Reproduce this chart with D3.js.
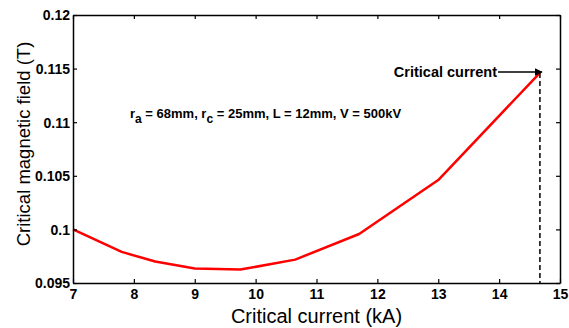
<!DOCTYPE html>
<html><head><meta charset="utf-8">
<script src="https://cdn.jsdelivr.net/npm/d3@7"></script>
<style>body{margin:0;background:#fff}svg{display:block}</style>
</head><body>
<svg id="c" width="569" height="328"></svg>
<script>
const currentKA = [7.0, 7.8, 8.35, 9.0, 9.75, 10.65, 11.7, 13.0, 14.67];
const fieldT    = [0.1, 0.0979, 0.0970, 0.09635, 0.09625, 0.09718, 0.09957, 0.1046, 0.1146];
const xTicks = [7, 8, 9, 10, 11, 12, 13, 14, 15];
const yTicks = [0.095, 0.1, 0.105, 0.11, 0.115, 0.12];
const yTickLabels = ["0.095", "0.1", "0.105", "0.11", "0.115", "0.12"];
const annotX = 14.67, annotY = 0.1146;

const svg = d3.select("#c");
const L = 73, R = 560, T = 15, B = 283;
const x = d3.scaleLinear().domain([7, 15]).range([L, R]);
const y = d3.scaleLinear().domain([0.095, 0.12]).range([B, T]);
const font = "'Liberation Sans', Arial, sans-serif";

// line
const line = d3.line().x((d,i)=>x(currentKA[i])).y((d,i)=>y(fieldT[i]));
svg.append("path").datum(fieldT).attr("d", line)
  .attr("fill","none").attr("stroke","#ff0000").attr("stroke-width",2.5).attr("stroke-linejoin","round");

// dashed vertical
svg.append("line").attr("x1",x(annotX)).attr("x2",x(annotX)).attr("y1",y(annotY)).attr("y2",B)
  .attr("stroke","#000").attr("stroke-width",1.5).attr("stroke-dasharray","5,3");

// axes
const axB = svg.append("g").attr("transform",`translate(0,${B})`)
  .call(d3.axisBottom(x).tickValues(xTicks).tickSizeInner(-4).tickSizeOuter(0).tickPadding(6).tickFormat(d3.format("d")));
const axT = svg.append("g").attr("transform",`translate(0,${T})`)
  .call(d3.axisTop(x).tickValues(xTicks).tickSizeInner(-4).tickSizeOuter(0).tickFormat(""));
const axL = svg.append("g").attr("transform",`translate(${L},0)`)
  .call(d3.axisLeft(y).tickValues(yTicks).tickSizeInner(-4).tickSizeOuter(0).tickPadding(3).tickFormat((d,i)=>yTickLabels[i]));
const axR = svg.append("g").attr("transform",`translate(${R},0)`)
  .call(d3.axisRight(y).tickValues(yTicks).tickSizeInner(-4).tickSizeOuter(0).tickFormat(""));
[axB,axT,axL,axR].forEach(g=>{
  g.attr("font-family",null).attr("font-size",null);
  g.selectAll(".domain").attr("stroke","#000").attr("stroke-width",1.5);
  g.selectAll(".tick line").attr("stroke","#000").attr("stroke-width",1.2);
  g.selectAll("text").attr("fill","#000").style("font-family",font).style("font-weight","bold").style("font-size","14px");
});
axL.selectAll(".tick text").attr("dy","0.35em");

// axis titles
svg.append("text").attr("x",(L+R)/2).attr("y",323).attr("text-anchor","middle")
  .style("font-family",font).style("font-size","20px").text("Critical current (kA)");
svg.append("text").attr("transform",`translate(30,144) rotate(-90)`).attr("text-anchor","middle")
  .style("font-family",font).style("font-size","18.5px").text("Critical magnetic field (T)");

// parameter annotation
const t = svg.append("text").attr("x",130).attr("y",118)
  .style("font-family",font).style("font-weight","bold").style("font-size","13px");
t.append("tspan").text("r");
t.append("tspan").attr("dy",5).style("font-size","12px").text("a");
t.append("tspan").attr("dy",-5).text(" = 68mm, r");
t.append("tspan").attr("dy",5).style("font-size","12px").text("c");
t.append("tspan").attr("dy",-5).text(" = 25mm, L = 12mm, V = 500kV");

// arrow annotation
svg.append("defs").append("marker").attr("id","ah").attr("viewBox","0 0 10 10").attr("refX",9).attr("refY",5)
  .attr("markerWidth",8).attr("markerHeight",8).attr("markerUnits","userSpaceOnUse").attr("orient","auto")
  .append("path").attr("d","M0,0L10,5L0,10z").attr("fill","#000");
svg.append("text").attr("x",497).attr("y",77).attr("text-anchor","end")
  .style("font-family",font).style("font-weight","bold").style("font-size","14.5px").text("Critical current");
svg.append("line").attr("x1",498).attr("x2",x(annotX)+2).attr("y1",72).attr("y2",72)
  .attr("stroke","#000").attr("stroke-width",1.5).attr("marker-end","url(#ah)");
</script>
</body></html>
